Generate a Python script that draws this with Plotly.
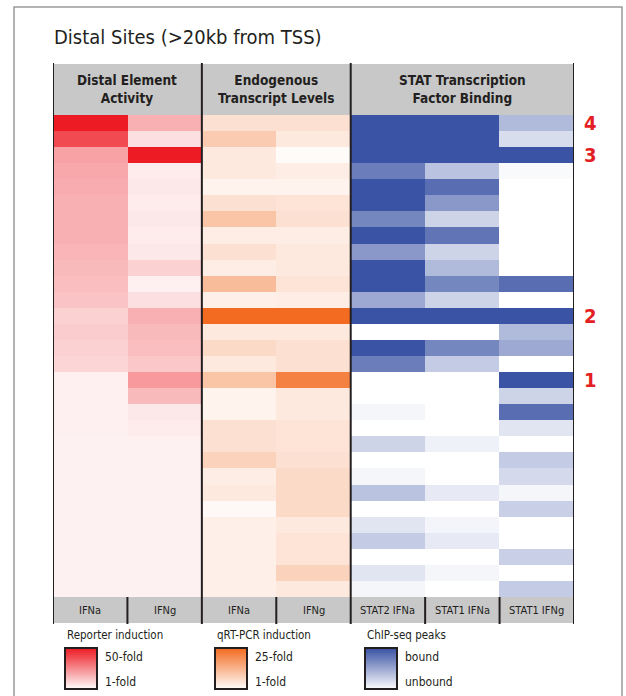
import plotly.graph_objects as go

# ---- data -------------------------------------------------------------
W, H = 626, 696
n_rows = 30
rows = list(range(n_rows))

column_labels = ["IFNa", "IFNg", "IFNa", "IFNg", "STAT2 IFNa", "STAT1 IFNa", "STAT1 IFNg"]
panel_titles = ["Distal Element<br>Activity", "Endogenous<br>Transcript Levels",
                "STAT Transcription<br>Factor Binding"]

# Reporter induction (fold, 1-50)
reporter_ifna = [50, 40, 21, 20, 19, 18, 18, 18, 17, 16, 15, 14, 11, 12, 11, 10,
                 4.4, 4.4, 4.2, 4.2, 4, 4, 4, 4, 4, 4, 4, 4, 4, 4]
reporter_ifng = [18, 8, 50, 5, 6, 5, 6, 5, 6, 11, 4.4, 8, 18, 16, 15, 13,
                 23, 16, 6, 5, 4, 4, 4, 4, 4, 4, 4, 4, 4, 4]

# qRT-PCR induction (fold, 1-25)
qpcr_ifna = [5.8, 9.4, 4.6, 4.6, 2.9, 5.8, 10.6, 3.9, 5.8, 3.9, 11.8, 3.4, 25,
             4.6, 7.0, 4.6, 10.6, 2.9, 2.9, 5.8, 5.8, 8.2, 3.9, 4.6, 2.0,
             3.4, 3.4, 3.4, 3.4, 3.4]
qpcr_ifng = [5.8, 4.6, 1.7, 3.9, 2.9, 5.3, 5.8, 3.9, 4.6, 4.6, 5.3, 3.9, 25,
             4.6, 5.8, 5.8, 21.4, 4.6, 4.6, 5.3, 5.3, 5.8, 7.0, 7.0, 7.0,
             4.6, 5.3, 5.3, 8.2, 4.6]

# ChIP-seq peak signal (0 = unbound, 1 = bound)
stat2_ifna = [1, 1, 1, 0.75, 1, 1, 0.7, 1, 0.6, 1, 1, 0.5, 1,
              0, 1, 0.75, 0, 0, 0.05, 0, 0.25, 0, 0.05, 0.35, 0, 0.15, 0.3, 0, 0.15, 0.05]
stat1_ifna = [1, 1, 1, 0.35, 0.85, 0.6, 0.25, 0.8, 0.25, 0.4, 0.7, 0.25, 1,
              0, 0.7, 0.3, 0, 0, 0, 0, 0.08, 0, 0, 0.12, 0, 0.06, 0.12, 0, 0.05, 0]
stat1_ifng = [0.4, 0.2, 1, 0.03, 0, 0, 0, 0, 0, 0, 0.85, 0, 1,
              0.4, 0.5, 0, 1, 0.25, 0.85, 0.15, 0, 0.3, 0.22, 0.05, 0.28, 0, 0, 0.28, 0, 0.3]

# highlighted sites: (row index, label)
marked_sites = [(0, "4"), (2, "3"), (12, "2"), (16, "1")]

legend_items = [
    ("Reporter induction", "50-fold", "1-fold", 1, 50),
    ("qRT-PCR induction", "25-fold", "1-fold", 1, 25),
    ("ChIP-seq peaks", "bound", "unbound", 0, 1),
]

# ---- styling ----------------------------------------------------------
RED = [[0, "#ffffff"], [1, "#ed1c24"]]
ORANGE = [[0, "#ffffff"], [1, "#f26b21"]]
BLUE = [[0, "#ffffff"], [1, "#3a53a4"]]
scales = [RED, ORANGE, BLUE]
FONT = "Liberation Sans Narrow, DejaVu Sans Condensed, Arial Narrow, sans-serif"
INK = "#231f20"
GRAY = "#c8c8c8"


def px(x):
    return x / W


def py(y):
    return 1 - y / H


# heat map area in pixels
LEFT, RIGHT, TOP, BOTTOM = 53, 574, 115, 597

fig = go.Figure()

panels = [
    ([0, 1], [reporter_ifna, reporter_ifng], RED, 1, 50),
    ([2, 3], [qpcr_ifna, qpcr_ifng], ORANGE, 1, 25),
    ([4, 5, 6], [stat2_ifna, stat1_ifna, stat1_ifng], BLUE, 0, 1),
]
for xs, cols, cs, zmin, zmax in panels:
    z = [[c[i] for c in cols] for i in rows]
    fig.add_trace(go.Heatmap(
        x=xs, y=rows, z=z, colorscale=cs, zmin=zmin, zmax=zmax,
        showscale=False, xaxis="x", yaxis="y", hoverinfo="z"))

# legend gradients
legend_x = [65, 215, 365]
for k, (title, hi, lo, zmin, zmax) in enumerate(legend_items):
    ax = k + 2
    fig.add_trace(go.Heatmap(
        x=[0, 1], y=[0, 1], z=[[zmin, zmin], [zmax, zmax]], zmin=zmin, zmax=zmax,
        colorscale=scales[k], zsmooth="best", showscale=False,
        xaxis=f"x{ax}", yaxis=f"y{ax}", hoverinfo="skip"))

layout = dict(
    width=W, height=H, margin=dict(l=0, r=0, t=0, b=0),
    paper_bgcolor="white", plot_bgcolor="white", showlegend=False,
    xaxis=dict(domain=[px(LEFT), px(RIGHT)], range=[-0.5, 6.5], visible=False, fixedrange=True),
    yaxis=dict(domain=[py(BOTTOM), py(TOP)], range=[n_rows - 0.5, -0.5], visible=False, fixedrange=True),
)
for k in range(3):
    ax = k + 2
    layout[f"xaxis{ax}"] = dict(domain=[px(legend_x[k]), px(legend_x[k] + 32)], range=[0, 1],
                                visible=False, fixedrange=True, anchor=f"y{ax}")
    layout[f"yaxis{ax}"] = dict(domain=[py(689), py(648)], range=[0, 1],
                                visible=False, fixedrange=True, anchor=f"x{ax}")
fig.update_layout(**layout)

shapes = []
annotations = []

# outer frame
shapes.append(dict(type="rect", xref="paper", yref="paper", x0=px(14), x1=px(622),
                   y0=py(H + 5), y1=py(7), line=dict(color="#9a9a9a", width=1.5),
                   fillcolor="rgba(0,0,0,0)", layer="below"))
# header and footer bands
shapes.append(dict(type="rect", xref="x", yref="paper", x0=-0.5, x1=6.5,
                   y0=py(TOP), y1=py(64), fillcolor=GRAY, line=dict(width=0), layer="below"))
shapes.append(dict(type="rect", xref="x", yref="paper", x0=-0.5, x1=6.5,
                   y0=py(623), y1=py(BOTTOM), fillcolor=GRAY, line=dict(width=0), layer="below"))
# panel separators
for xb in [-0.5, 1.5, 3.5, 6.5]:
    shapes.append(dict(type="line", xref="x", yref="paper", x0=xb, x1=xb,
                       y0=py(624), y1=py(63), line=dict(color=INK, width=2)))
# column separators in the footer
for xb in [0.5, 2.5, 4.5, 5.5]:
    shapes.append(dict(type="line", xref="x", yref="paper", x0=xb, x1=xb,
                       y0=py(624), y1=py(BOTTOM), line=dict(color=INK, width=2)))
# legend box outlines
for lx in legend_x:
    shapes.append(dict(type="rect", xref="paper", yref="paper", x0=px(lx), x1=px(lx + 32),
                       y0=py(689), y1=py(648), line=dict(color=INK, width=2),
                       fillcolor="rgba(0,0,0,0)"))

# title
annotations.append(dict(text="Distal Sites (>20kb from TSS)", xref="paper", yref="paper",
                        x=px(52), y=py(37), xanchor="left", yanchor="middle", showarrow=False,
                        font=dict(family=FONT, size=20, color=INK)))
# panel headings
for (a, b), t in zip([(-0.5, 1.5), (1.5, 3.5), (3.5, 6.5)], panel_titles):
    annotations.append(dict(text=f"<b>{t}</b>", xref="x", yref="paper", x=(a + b) / 2,
                            y=py(89), xanchor="center", yanchor="middle", showarrow=False,
                            font=dict(family=FONT, size=13.5, color=INK)))
# column labels
for i, lab in enumerate(column_labels):
    annotations.append(dict(text=lab, xref="x", yref="paper", x=i, y=py(610),
                            xanchor="center", yanchor="middle", showarrow=False,
                            font=dict(family=FONT, size=11, color=INK)))
# site markers
for r, lab in marked_sites:
    annotations.append(dict(text=f"<b>{lab}</b>", xref="paper", yref="y", x=px(590), y=r,
                            xanchor="center", yanchor="middle", showarrow=False,
                            font=dict(family=FONT, size=20, color="#e31e24")))
# legend texts
for lx, (title, hi, lo, _, _) in zip(legend_x, legend_items):
    annotations.append(dict(text=title, xref="paper", yref="paper", x=px(lx), y=py(635),
                            xanchor="left", yanchor="middle", showarrow=False,
                            font=dict(family=FONT, size=11.5, color=INK)))
    for txt, yy in [(hi, 657), (lo, 682)]:
        annotations.append(dict(text=txt, xref="paper", yref="paper", x=px(lx + 38), y=py(yy),
                                xanchor="left", yanchor="middle", showarrow=False,
                                font=dict(family=FONT, size=12, color=INK)))

fig.update_layout(shapes=shapes, annotations=annotations)
fig.write_html("out.html")
